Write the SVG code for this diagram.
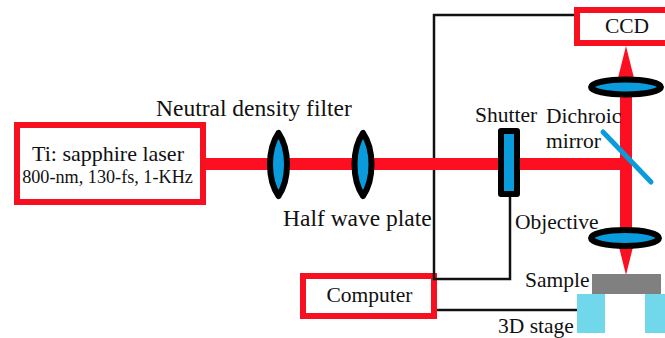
<svg xmlns="http://www.w3.org/2000/svg" width="665" height="338" viewBox="0 0 665 338">
<style>
text{font-family:"Liberation Serif","Times New Roman",serif;fill:#111}
.box{fill:#fff;stroke:#f7101f;stroke-width:6}
.lens{fill:#0a9bdc;stroke:#000;stroke-width:6;stroke-linejoin:round}
.wire{fill:none;stroke:#111;stroke-width:2.500}
.beam{fill:#fb0f20;stroke:none}
.t23{font-size:23.500px}
.t21{font-size:21.500px}
</style>
<rect width="665" height="338" fill="#fff"/>
<g id="computer"><rect class="box" x="303" y="276" width="131" height="40"/>
<text class="t21" x="369.500" y="302" text-anchor="middle">Computer</text></g>
<g id="connectors">
<path class="wire" d="M574 15H434V279H510V195"/>
<path class="wire" d="M437 310H578"/>
</g>
<g id="beams">
<rect class="beam" x="203" y="158" width="429" height="12"/>
<rect class="beam" x="620" y="92" width="12" height="78"/>
<rect class="beam" x="620" y="170" width="12" height="70"/>
<polygon class="beam" points="626,46 634,78 618,78"/>
<polygon class="beam" points="619,247 633,247 626,275"/>
</g>
<g id="laser"><rect class="box" x="17" y="125" width="186" height="77"/>
<text x="108" y="161" font-size="22px" text-anchor="middle">Ti: sapphire laser</text>
<text x="107.500" y="183" font-size="18.200px" text-anchor="middle">800-nm, 130-fs, 1-KHz</text></g>
<g id="nd-filter"><path class="lens" d="M278.500 133C273 141 270 153 270 164.500C270 176 273 188 278.500 196C284 188 287 176 287 164.500C287 153 284 141 278.500 133Z"/>
<text class="t23" x="156" y="116">Neutral density filter</text></g>
<g id="half-wave-plate"><path class="lens" d="M363 133C357.500 141 354.500 153 354.500 164.500C354.500 176 357.500 188 363 196C368.500 188 371.500 176 371.500 164.500C371.500 153 368.500 141 363 133Z"/>
<text class="t23" x="283" y="226">Half wave plate</text></g>
<g id="shutter"><rect class="lens" x="501" y="131" width="16" height="63"/>
<text class="t21" x="475" y="122">Shutter</text></g>
<g id="dichroic-mirror"><line x1="603" y1="132" x2="651" y2="182" stroke="#0a9bdc" stroke-width="5" stroke-linecap="round"/>
<text class="t21" x="546" y="123">Dichroic</text>
<text class="t21" x="546" y="148">mirror</text></g>
<g id="ccd"><rect class="box" x="577" y="10" width="100" height="33"/>
<text class="t21" x="627" y="33" text-anchor="middle">CCD</text></g>
<g id="tube-lens"><ellipse class="lens" cx="626" cy="87" rx="35" ry="7.500"/></g>
<g id="objective"><ellipse class="lens" cx="625" cy="238" rx="34" ry="8"/>
<text class="t21" x="515" y="229">Objective</text></g>
<g id="sample"><rect x="592" y="274" width="69" height="20" fill="#808080"/>
<text class="t21" x="525" y="287">Sample</text></g>
<g id="stage"><rect x="577" y="294" width="28" height="39" fill="#70d8ea"/><rect x="645" y="294" width="20" height="39" fill="#70d8ea"/>
<text class="t21" x="498" y="333">3D stage</text></g>
</svg>
